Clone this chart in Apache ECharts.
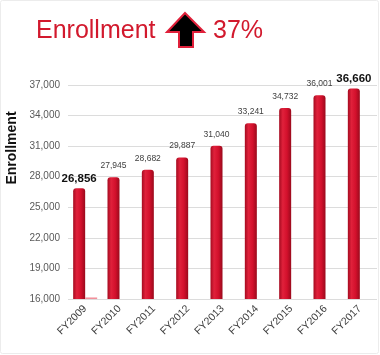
<!DOCTYPE html>
<html>
<head>
<meta charset="utf-8">
<script src="https://cdn.jsdelivr.net/npm/echarts@6/dist/echarts.min.js"></script>
<style>html,body{margin:0;padding:0;background:#fff;}#c{width:380px;height:355px;}</style>
</head>
<body>
<div id="c"></div>
<script>
const categories = ['FY2009','FY2010','FY2011','FY2012','FY2013','FY2014','FY2015','FY2016','FY2017'];
const enrollment = [26856, 27945, 28682, 29887, 31040, 33241, 34732, 36001, 36660];
const secondary = [16150, null, null, null, null, null, null, null, null];
const yTicks = [16000, 19000, 22000, 25000, 28000, 31000, 34000, 37000];

const chart = echarts.init(document.getElementById('c'), null, {renderer: 'canvas'});
const FONT = '"Liberation Sans", Arial, sans-serif';
const barColor = {
  type: 'linear', x: 0, y: 0, x2: 1, y2: 0,
  colorStops: [
    {offset: 0, color: '#a50b20'},
    {offset: 0.3, color: '#e0213b'},
    {offset: 0.65, color: '#d3102c'},
    {offset: 1, color: '#9a0a1c'}
  ]
};
const last = enrollment.length - 1;
const barData = enrollment.map((v, i) => {
  const big = (i === 0 || i === last);
  return {
    value: v,
    label: big
      ? {fontSize: 11.5, fontWeight: 'bold', color: '#111', distance: 4}
      : {fontSize: 8.5, color: '#404040', distance: 7}
  };
});

chart.setOption({
  animation: false,
  backgroundColor: '#fff',
  grid: {left: 68, right: 3, top: 85, bottom: 56, containLabel: false},
  xAxis: {
    type: 'category',
    data: categories,
    axisLine: {show: false},
    axisTick: {show: false},
    axisLabel: {rotate: 45, fontSize: 10.5, color: '#404040', fontFamily: FONT, margin: 8, interval: 0}
  },
  yAxis: {
    type: 'value',
    min: yTicks[0],
    max: yTicks[yTicks.length - 1],
    interval: yTicks[1] - yTicks[0],
    axisLine: {show: false},
    axisTick: {show: false},
    axisLabel: {
      fontSize: 10, color: '#595959', fontFamily: FONT, margin: 8,
      formatter: v => v.toLocaleString('en-US')
    },
    splitLine: {lineStyle: {color: '#dcdcdc', width: 1}}
  },
  series: [
    {
      type: 'bar',
      data: barData,
      barWidth: 12,
      barGap: '0%',
      itemStyle: {color: barColor, borderRadius: [3, 3, 0, 0]},
      label: {
        show: true, position: 'top', fontFamily: FONT,
        formatter: p => p.value.toLocaleString('en-US')
      }
    },
    {
      type: 'bar',
      data: secondary,
      barWidth: 12,
      itemStyle: {color: '#f2909b'}
    }
  ],
  graphic: [
    {type: 'rect', shape: {x: 0.5, y: 0.5, width: 378, height: 353, r: 2}, style: {fill: 'none', stroke: '#ececec', lineWidth: 1}, silent: true},
    {type: 'text', left: 36, top: 19, style: {text: 'Enrollment', fontSize: 25, fontFamily: FONT, fill: '#d2192d'}},
    {type: 'polygon', shape: {points: [[185, 13], [204, 32], [193, 32], [193, 47], [179, 47], [179, 32], [167, 32]]},
      style: {fill: '#000', stroke: '#e0203a', lineWidth: 2}},
    {type: 'text', left: 213, top: 19, style: {text: '37%', fontSize: 25, fontFamily: FONT, fill: '#d2192d'}},
    {type: 'text', x: 12.5, y: 148, rotation: Math.PI / 2,
      style: {text: 'Enrollment', fontSize: 14, fontWeight: 'bold', fontFamily: FONT, fill: '#111', align: 'center', verticalAlign: 'middle'}}
  ]
});
</script>
</body>
</html>
